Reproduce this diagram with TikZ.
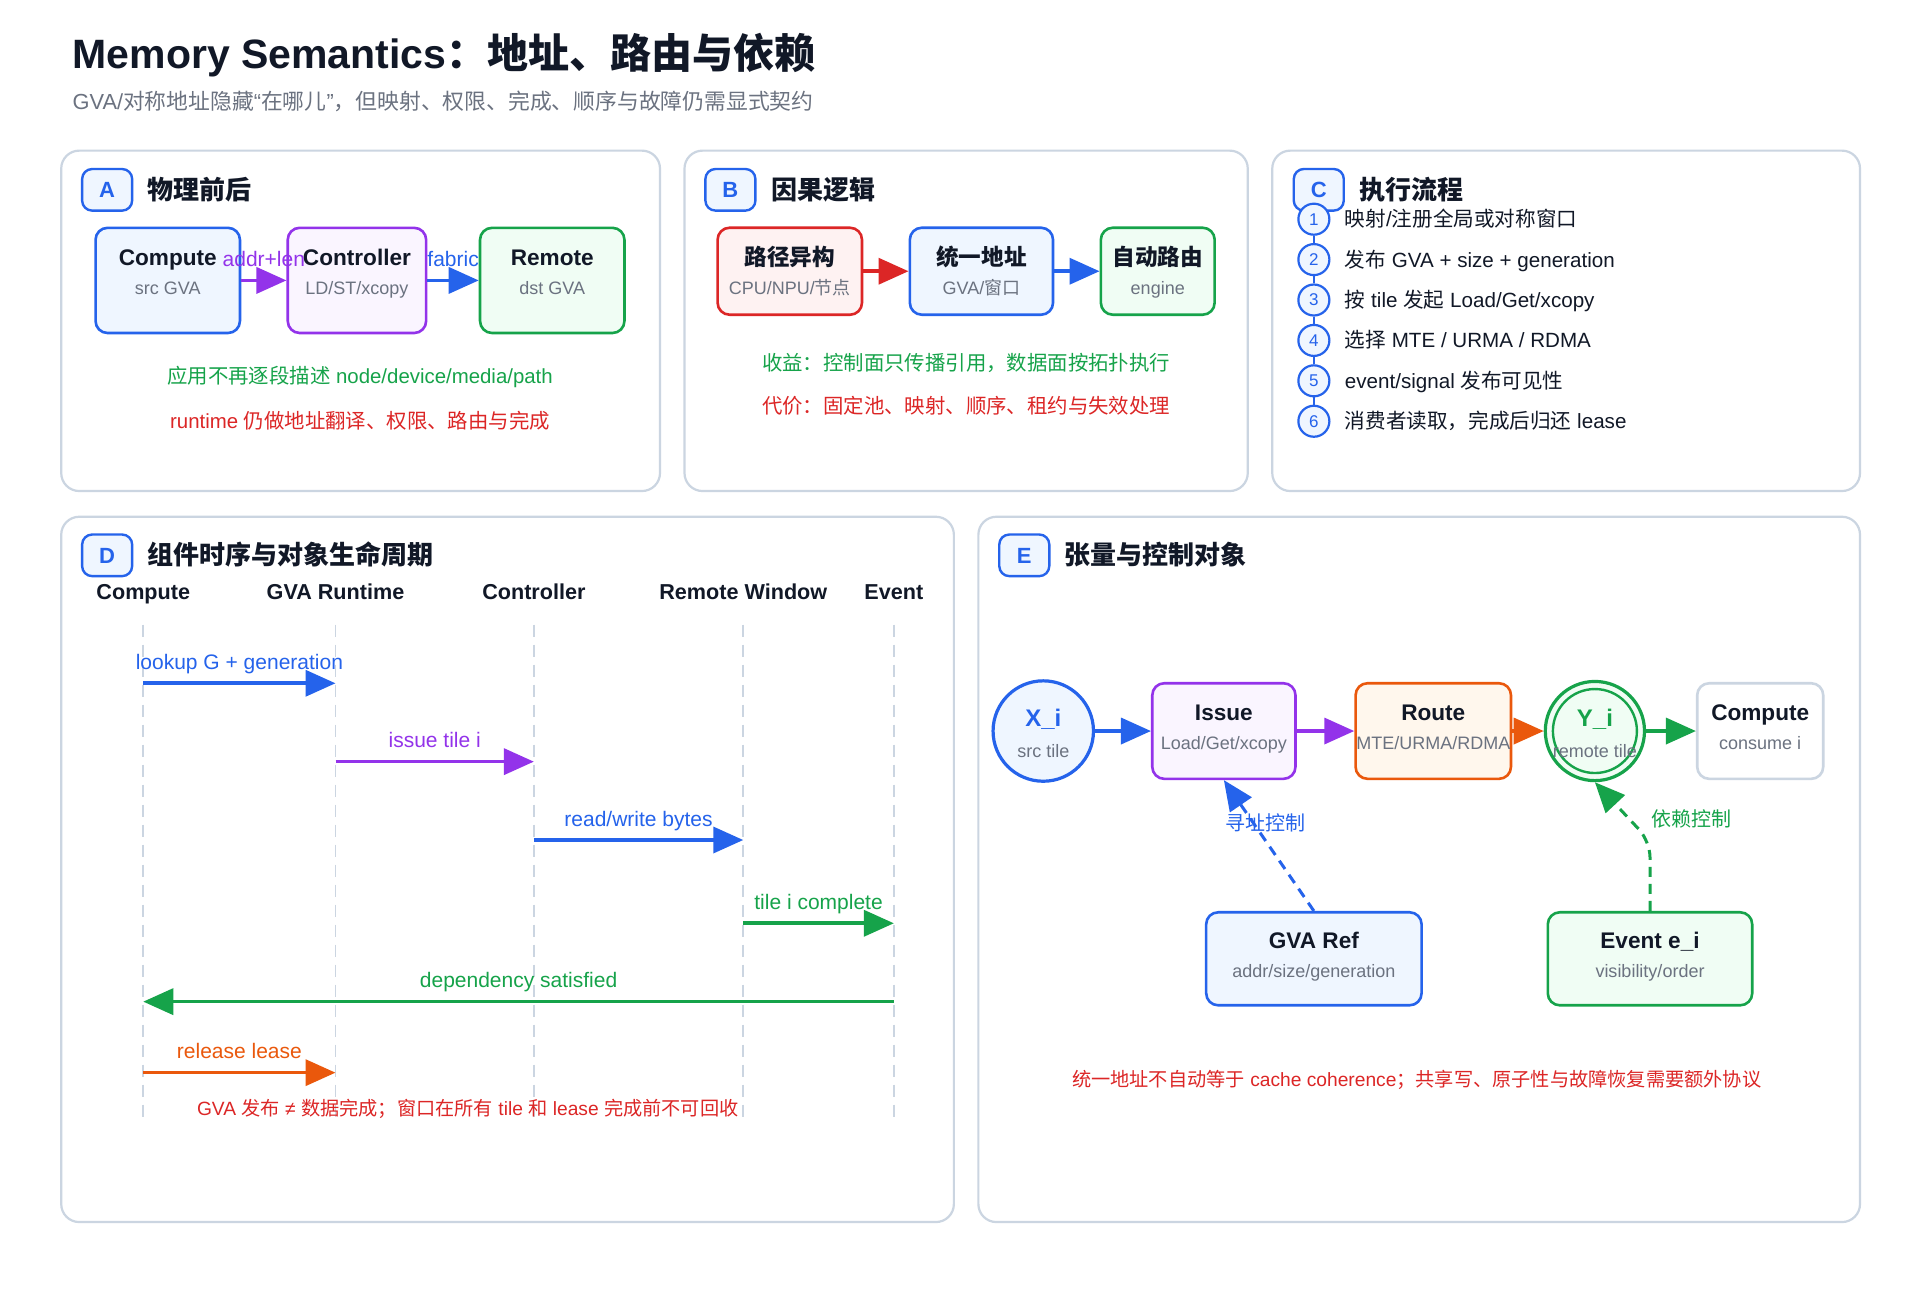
\documentclass[tikz,border=0pt]{standalone}
\usepackage{fontspec}
\setmainfont{Liberation Sans}
\newfontfamily\cjkfont{Noto Sans CJK SC}
\usetikzlibrary{arrows.meta,positioning,calc}

% TROCA AUTOMATICA PARA A FONTE CJK
\XeTeXinterchartokenstate=1
\newXeTeXintercharclass\cjkclass
\newcount\cjkcnt
\cjkcnt=0
\loop
  \XeTeXcharclass\cjkcnt=0
  \advance\cjkcnt by 1
\ifnum\cjkcnt<"3000 \repeat
\loop
  \XeTeXcharclass\cjkcnt=\cjkclass
  \advance\cjkcnt by 1
\ifnum\cjkcnt<"A000 \repeat
\cjkcnt="FF00
\loop
  \XeTeXcharclass\cjkcnt=\cjkclass
  \advance\cjkcnt by 1
\ifnum\cjkcnt<"FFF0 \repeat
\XeTeXinterchartoks 0 \cjkclass = {\begingroup\cjkfont}
\XeTeXinterchartoks 4095 \cjkclass = {\begingroup\cjkfont}
\XeTeXinterchartoks \cjkclass 0 = {\endgroup}
\XeTeXinterchartoks \cjkclass 4095 = {\endgroup}

\definecolor{ink}{HTML}{111827}
\definecolor{subgray}{HTML}{6B7280}
\definecolor{panelline}{HTML}{CBD5E1}
\definecolor{cblue}{HTML}{2563EB}
\definecolor{cbluebg}{HTML}{EFF6FF}
\definecolor{cpurple}{HTML}{9333EA}
\definecolor{cpurplebg}{HTML}{FAF5FF}
\definecolor{cgreen}{HTML}{16A34A}
\definecolor{cgreenbg}{HTML}{F0FDF4}
\definecolor{cred}{HTML}{DC2626}
\definecolor{credbg}{HTML}{FEF2F2}
\definecolor{corange}{HTML}{EA580C}
\definecolor{corangebg}{HTML}{FFF7ED}

\tikzset{
  panel/.style={draw=panelline, line width=1.1pt, rounded corners=9pt, fill=white},
  badge/.style={draw=cblue, fill=cbluebg, line width=1.2pt, rounded corners=5pt,
    minimum width=25pt, minimum height=20.8pt, inner sep=0pt, text=cblue,
    text height=7.9pt, text depth=0pt, font=\bfseries\fontsize{11}{13}\selectfont},
  heading/.style={anchor=west, inner sep=0pt, text=ink, text height=9.4pt, text depth=0pt,
    font=\bfseries\fontsize{13}{16}\selectfont},
  card/.style 2 args={draw=#1, fill=#2, line width=1.3pt, rounded corners=6pt, inner sep=0pt},
  ttl/.style={inner sep=0pt, text=ink, text height=8.1pt, text depth=0pt,
    font=\bfseries\fontsize{11.3}{13}\selectfont},
  sub/.style={inner sep=0pt, text=subgray, text height=6.5pt, text depth=0pt,
    font=\fontsize{9}{11}\selectfont},
  note/.style={inner sep=0pt, text=#1, text height=7.3pt, text depth=0pt,
    font=\fontsize{10.2}{12}\selectfont},
  lbl/.style={inner sep=0pt, anchor=base, yshift=7pt, text=#1,
    font=\fontsize{10.5}{12}\selectfont},
  flow/.style={draw=#1, line width=1.8pt, -{Triangle[length=15pt,width=13pt]}},
  dflow/.style={draw=#1, line width=1.5pt, dash pattern=on 5pt off 3.5pt,
    -{Triangle[length=15pt,width=13pt]}},
  num/.style={circle, draw=cblue, fill=cbluebg, line width=1.1pt, minimum size=15.5pt,
    inner sep=0pt, text=cblue, font=\fontsize{8.5}{10}\selectfont},
  item/.style={anchor=west, inner sep=0pt, text=ink, text height=7.4pt, text depth=0pt,
    font=\fontsize{10.3}{12}\selectfont},
  colhead/.style={inner sep=0pt, text=ink, text height=7.8pt, text depth=0pt,
    font=\bfseries\fontsize{10.8}{13}\selectfont},
  lifeline/.style={draw=panelline, line width=0.9pt, dash pattern=on 6pt off 4pt},
  ctrl/.style={inner sep=0pt, text=#1, text height=7.2pt, text depth=0pt,
    font=\fontsize{10}{12}\selectfont},
  tile/.style={inner sep=0pt, text=#1, text height=8.6pt, text depth=0pt,
    font=\bfseries\fontsize{12}{14}\selectfont}
}

\begin{document}
\begin{tikzpicture}[x=0.6122pt, y=-0.6122pt]

% FUNDO
\fill[white] (0,0) rectangle (1568,1058);
\useasboundingbox (0,0) rectangle (1568,1058);

% TITULO
\node[anchor=west, inner sep=0pt, text=ink, font=\bfseries\fontsize{20.5}{24}\selectfont]
(title) at (59,45) {Memory Semantics：地址、路由与依赖};
\node[anchor=west, inner sep=0pt, text=subgray, font=\fontsize{10.9}{13}\selectfont]
(subtitle) at (59,83) {GVA/对称地址隐藏“在哪儿”，但映射、权限、完成、顺序与故障仍需显式契约};

% PAINEIS
\draw[panel] (50,123) rectangle (539,401);
\draw[panel] (559,123) rectangle (1019,401);
\draw[panel] (1039,123) rectangle (1519,401);
\draw[panel] (50,422) rectangle (779,998);
\draw[panel] (799,422) rectangle (1519,998);

% PAINEL A
\node[badge] (badgeA) at (87.5,155) {A};
\node[heading] (headA) at (120,155) {物理前后};

\node[card={cblue}{cbluebg}, minimum width=72.2pt, minimum height=52.6pt] (cmpA) at (137,229) {};
\node[ttl] (cmpAt) at (137,210) {Compute};
\node[sub] (cmpAs) at (137,235) {src GVA};

\node[card={cpurple}{cpurplebg}, minimum width=69.2pt, minimum height=52.6pt] (ctlA) at (291.5,229) {};
\node[ttl] (ctlAt) at (291.5,210) {Controller};
\node[sub] (ctlAs) at (291.5,235) {LD/ST/xcopy};

\node[card={cgreen}{cgreenbg}, minimum width=72.2pt, minimum height=52.6pt] (remA) at (451,229) {};
\node[ttl] (remAt) at (451,210) {Remote};
\node[sub] (remAs) at (451,235) {dst GVA};

\draw[flow=cpurple] (cmpA) -- (ctlA) node[lbl=cpurple, midway] {addr+len};
\draw[flow=cblue] (ctlA) -- (remA) node[lbl=cblue, midway] {fabric};

\node[note=cgreen] (noteA1) at (294,307) {应用不再逐段描述 node/device/media/path};
\node[note=cred] (noteA2) at (294,344) {runtime 仍做地址翻译、权限、路由与完成};

% PAINEL B
\node[badge] (badgeB) at (596.5,155) {B};
\node[heading] (headB) at (630,155) {因果逻辑};

\node[card={cred}{credbg}, minimum width=72.2pt, minimum height=43.5pt] (pathB) at (645,221.5) {};
\node[ttl] (pathBt) at (645,210) {路径异构};
\node[sub] (pathBs) at (645,235) {CPU/NPU/节点};

\node[card={cblue}{cbluebg}, minimum width=71.6pt, minimum height=43.5pt] (addrB) at (801.5,221.5) {};
\node[ttl] (addrBt) at (801.5,210) {统一地址};
\node[sub] (addrBs) at (801.5,235) {GVA/窗口};

\node[card={cgreen}{cgreenbg}, minimum width=56.9pt, minimum height=43.5pt] (routeB) at (945.5,221.5) {};
\node[ttl] (routeBt) at (945.5,210) {自动路由};
\node[sub] (routeBs) at (945.5,235) {engine};

\draw[flow=cred] (pathB) -- (addrB);
\draw[flow=cblue] (addrB) -- (routeB);

\node[note=cgreen] (noteB1) at (789,297) {收益：控制面只传播引用，数据面按拓扑执行};
\node[note=cred] (noteB2) at (789,332) {代价：固定池、映射、顺序、租约与失效处理};

% PAINEL C
\node[badge] (badgeC) at (1077,155) {C};
\node[heading] (headC) at (1110,155) {执行流程};

\node[num] (s1) at (1073,179) {1};
\node[num] (s2) at (1073,212) {2};
\node[num] (s3) at (1073,245) {3};
\node[num] (s4) at (1073,278) {4};
\node[num] (s5) at (1073,311) {5};
\node[num] (s6) at (1073,344) {6};

\draw[cblue, line width=1pt] (s1) -- (s2);
\draw[cblue, line width=1pt] (s2) -- (s3);
\draw[cblue, line width=1pt] (s3) -- (s4);
\draw[cblue, line width=1pt] (s4) -- (s5);
\draw[cblue, line width=1pt] (s5) -- (s6);

\node[item] (st1) at (1098,179) {映射/注册全局或对称窗口};
\node[item] (st2) at (1098,212) {发布 GVA + size + generation};
\node[item] (st3) at (1098,245) {按 tile 发起 Load/Get/xcopy};
\node[item] (st4) at (1098,278) {选择 MTE / URMA / RDMA};
\node[item] (st5) at (1098,311) {event/signal 发布可见性};
\node[item] (st6) at (1098,344) {消费者读取，完成后归还 lease};

% PAINEL D
\node[badge] (badgeD) at (87.5,453.5) {D};
\node[heading] (headD) at (120,453.5) {组件时序与对象生命周期};

\node[colhead] (hcmp) at (117,483) {Compute};
\node[colhead] (hgva) at (274,483) {GVA Runtime};
\node[colhead] (hctl) at (436,483) {Controller};
\node[colhead] (hrem) at (607,483) {Remote Window};
\node[colhead] (hevt) at (730,483) {Event};

\coordinate (lltop) at (0,510);
\coordinate (llbot) at (0,913);
\draw[lifeline] (hcmp |- lltop) -- (hcmp |- llbot);
\draw[lifeline] (hgva |- lltop) -- (hgva |- llbot);
\draw[lifeline] (hctl |- lltop) -- (hctl |- llbot);
\draw[lifeline] (hrem |- lltop) -- (hrem |- llbot);
\draw[lifeline] (hevt |- lltop) -- (hevt |- llbot);

\coordinate (r1) at (0,558);
\coordinate (r2) at (0,622);
\coordinate (r3) at (0,686);
\coordinate (r4) at (0,754);
\coordinate (r5) at (0,818);
\coordinate (r6) at (0,876);

\draw[flow=cblue] (hcmp |- r1) -- (hgva |- r1) node[lbl=cblue, midway] {lookup G + generation};
\draw[flow=cpurple] (hgva |- r2) -- (hctl |- r2) node[lbl=cpurple, midway] {issue tile i};
\draw[flow=cblue] (hctl |- r3) -- (hrem |- r3) node[lbl=cblue, midway] {read/write bytes};
\draw[flow=cgreen] (hrem |- r4) -- (hevt |- r4) node[lbl=cgreen, midway] {tile i complete};
\draw[flow=cgreen] (hevt |- r5) -- (hcmp |- r5) node[lbl=cgreen, midway] {dependency satisfied};
\draw[flow=corange] (hcmp |- r6) -- (hgva |- r6) node[lbl=corange, midway] {release lease};

\node[note=cred, font=\fontsize{9.6}{12}\selectfont] (noteD) at (382,905)
{GVA 发布 ≠ 数据完成；窗口在所有 tile 和 lease 完成前不可回收};

% PAINEL E
\node[badge] (badgeE) at (836.5,453.5) {E};
\node[heading] (headE) at (869,453.5) {张量与控制对象};

\node[circle, draw=cblue, fill=cbluebg, line width=1.6pt, minimum size=50.2pt] (xi) at (852,597) {};
\node[tile=cblue] (xit) at (852,586) {X\_i};
\node[sub] (xis) at (852,613) {src tile};

\node[card={cpurple}{cpurplebg}, minimum width=71.6pt, minimum height=47.8pt] (issueE) at (999.5,597) {};
\node[ttl] (issueEt) at (999.5,582) {Issue};
\node[sub] (issueEs) at (999.5,607) {Load/Get/xcopy};

\node[card={corange}{corangebg}, minimum width=77.7pt, minimum height=47.8pt] (routeE) at (1170.5,597) {};
\node[ttl] (routeEt) at (1170.5,582) {Route};
\node[sub] (routeEs) at (1170.5,607) {MTE/URMA/RDMA};

\node[circle, draw=cgreen, fill=cgreenbg, line width=1.6pt, minimum size=49.6pt] (yi) at (1302.5,597) {};
\draw[cgreen, line width=1.2pt] (yi.center) circle[radius=21pt];
\node[tile=cgreen] (yit) at (1302.5,586) {Y\_i};
\node[sub] (yis) at (1302.5,613) {remote tile};

\node[card={panelline}{white}, minimum width=63pt, minimum height=47.8pt] (cmpE) at (1437.5,597) {};
\node[ttl] (cmpEt) at (1437.5,582) {Compute};
\node[sub] (cmpEs) at (1437.5,607) {consume i};

\node[card={cblue}{cbluebg}, minimum width=107.7pt, minimum height=46.5pt] (gvaE) at (1073,783) {};
\node[ttl] (gvaEt) at (1073,768) {GVA Ref};
\node[sub] (gvaEs) at (1073,793) {addr/size/generation};

\node[card={cgreen}{cgreenbg}, minimum width=102.2pt, minimum height=46.5pt] (evtE) at (1347.5,783) {};
\node[ttl] (evtEt) at (1347.5,768) {Event e\_i};
\node[sub] (evtEs) at (1347.5,793) {visibility/order};

% SETAS E
\draw[flow=cblue] (xi) -- (issueE);
\draw[flow=cpurple] (issueE) -- (routeE);
\draw[flow=corange] (routeE) -- (yi);
\draw[flow=cgreen] (yi) -- (cmpE);

% CONTROLE
\draw[dflow=cblue] (gvaE.north) -- (issueE.south)
node[ctrl=cblue, pos=0.67, xshift=6pt] {寻址控制};
\draw[dflow=cgreen, rounded corners=8pt] (evtE.north) -- ++(0,-57)
node[ctrl=cgreen, anchor=west, yshift=11pt] {依赖控制} -- (yi.south);

\node[note=cred, font=\fontsize{9.6}{12}\selectfont] (noteE) at (1157,881)
{统一地址不自动等于 cache coherence；共享写、原子性与故障恢复需要额外协议};

\end{tikzpicture}
\end{document}
